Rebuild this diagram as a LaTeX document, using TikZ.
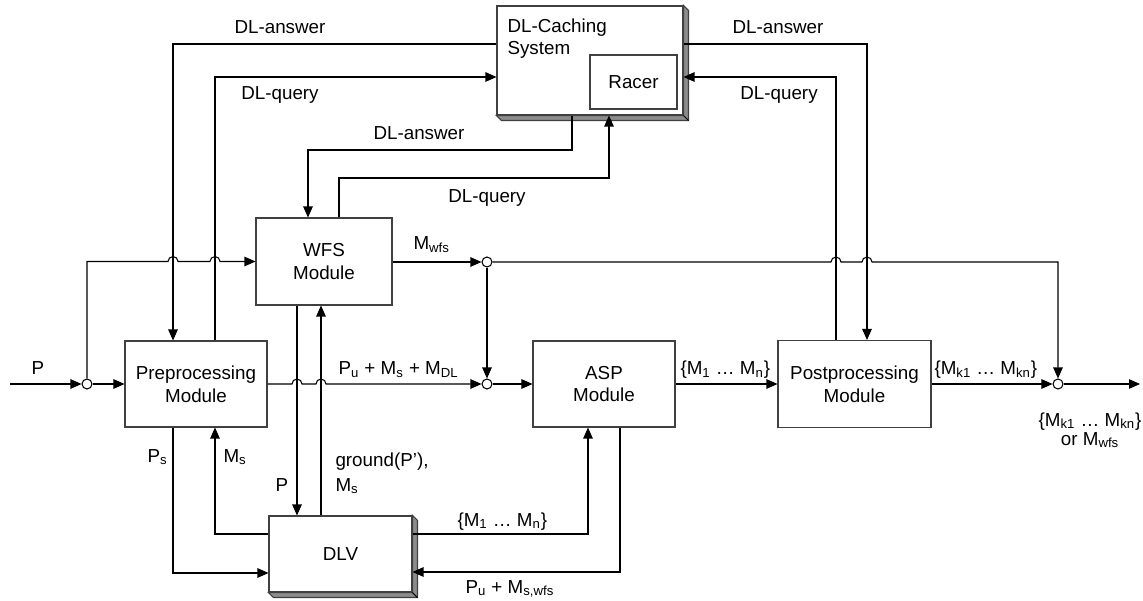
\documentclass[tikz,border=0pt]{standalone}
\usepackage{fontspec}
\setmainfont{Liberation Sans}
\usetikzlibrary{arrows.meta,calc}

\tikzset{
  block/.style={draw=black!75, fill=white, align=center, inner sep=0pt},
  junc/.style={circle, draw, fill=white, inner sep=0pt, minimum size=0.2cm},
  arr/.style={-{Triangle[length=0.22cm,width=0.19cm]}},
  lbl/.style={inner sep=0pt, anchor=base west},
  shade3d/.style={fill=black!45, draw=black!75},
}
\newcommand{\jump}{arc[start angle=180,end angle=0,radius=0.1cm]}

\begin{document}
\begin{tikzpicture}[x=0.02cm, y=-0.02cm, line width=0.6pt,
  font=\fontsize{10.7}{12.9}\selectfont]
\useasboundingbox (0,0) rectangle (1143,601);

% modules
\node[block, minimum width=3.72cm, minimum height=2.18cm] (dlc) at (590,60.5) {};
\node[block, minimum width=1.74cm, minimum height=1.08cm] (racer) at (633.5,82) {Racer};
\node[inner sep=0pt, anchor=north west, align=left] (dlcTxt) at (507,18) {DL-Caching\\System};
\node[block, minimum width=2.72cm, minimum height=1.74cm] (wfs) at (324,261.5) {WFS\\Module};
\node[block, minimum width=2.84cm, minimum height=1.72cm] (pre) at (196,384) {Preprocessing\\Module};
\node[block, minimum width=2.84cm, minimum height=1.72cm] (asp) at (604,384) {ASP\\Module};
\node[block, minimum width=3.06cm, minimum height=1.74cm] (post) at (854.5,384) {Postprocessing\\Module};
\node[block, minimum width=2.86cm, minimum height=1.52cm] (dlv) at (340.5,554) {DLV};

% 3d sides
\filldraw[shade3d] (dlc.south west) -- ++(5,5) -| ($(dlc.north east)+(5,5)$) -- (dlc.north east) -- (dlc.south east) -- cycle;
\draw (dlc.south east) -- ++(5,5);
\filldraw[shade3d] (dlv.south west) -- ++(5,5) -| ($(dlv.north east)+(5,5)$) -- (dlv.north east) -- (dlv.south east) -- cycle;
\draw (dlv.south east) -- ++(5,5);

% junctions and free ends
\node[junc] (split) at (87,384) {};
\node[junc] (jw) at (487,262) {};
\node[junc] (jm) at (487,384) {};
\node[junc] (jo) at (1058,384) {};
\coordinate (in) at (10,384);
\coordinate (out) at (1140,384);

% lanes
\coordinate (ansL) at (173,44);
\coordinate (qryL) at (215,77);
\coordinate (ansR) at (867,44);
\coordinate (qryR) at (836,77);
\coordinate (ansM) at (308,150);
\coordinate (ansM3) at (572,150);
\coordinate (qryM) at (339,178);
\coordinate (qryM3) at (609,178);
\coordinate (xd) at (297,0);
\coordinate (xu) at (321,0);
\coordinate (lowPs) at (173,573);
\coordinate (lowMs) at (215,534);
\coordinate (lowMn) at (588,534);
\coordinate (lowPu) at (620,572);

% main flow
\draw[arr] (in) -- (split);
\draw[arr] (split) -- (pre);
\draw[arr] (split) |- ([xshift=-0.1cm]ansL |- wfs.west) \jump -- ([xshift=-0.1cm]qryL |- wfs.west) \jump -- (wfs.west);
\draw[arr] (pre.east) -- ([xshift=-0.1cm]xd |- pre.east) \jump -- ([xshift=-0.1cm]xu |- pre.east) \jump -- (jm);
\draw[arr] (wfs.east |- jw) -- (jw);
\draw[arr] (jw) -- (jm);
\draw[arr] (jm) -- (asp.west);
\draw[arr] (asp.east) -- (post.west);
\draw[arr] (post.east) -- (jo);
\draw[arr] (jo) -- (out);
\draw[arr] (jw) -- ([xshift=-0.1cm]qryR |- jw) \jump -- ([xshift=-0.1cm]ansR |- jw) \jump -| (jo);

% DL calls
\draw[arr] (dlc.west |- ansL) -| (pre.north -| ansL);
\draw[arr] (pre.north -| qryL) |- (dlc.west |- qryL);
\draw[arr] (dlc.east |- ansR) -| (post.north -| ansR);
\draw[arr] (post.north -| qryR) |- (dlc.east |- qryR);
\draw[arr] (dlc.south -| ansM3) -- (ansM3) -| (wfs.north -| ansM);
\draw[arr] (wfs.north -| qryM) |- (qryM3) -- (dlc.south -| qryM3);

% DLV
\draw[arr] (wfs.south -| xd) -- (dlv.north -| xd);
\draw[arr] (dlv.north -| xu) -- (wfs.south -| xu);
\draw[arr] (pre.south -| lowPs) |- (dlv.west |- lowPs);
\draw[arr] (dlv.west |- lowMs) -| (pre.south -| lowMs);
\draw[arr] (dlv.east |- lowMn) -| (asp.south -| lowMn);
\draw[arr] (asp.south -| lowPu) |- (dlv.east |- lowPu);

% labels
\node[lbl, anchor=base] (lP) at (38,375) {P};
\node[lbl, anchor=base] (lAnsL) at (280,34) {DL-answer};
\node[lbl, anchor=base] (lQryL) at (280,100) {DL-query};
\node[lbl, anchor=base] (lAnsR) at (778,34) {DL-answer};
\node[lbl, anchor=base] (lQryR) at (779,100) {DL-query};
\node[lbl, anchor=base] (lAnsM) at (419,140) {DL-answer};
\node[lbl, anchor=base] (lQryM) at (487,203) {DL-query};
\node[lbl] (lMwfs) at (413,250) {M\textsubscript{wfs}};
\node[lbl] (lPre) at (338,375) {P\textsubscript{u} + M\textsubscript{s} + M\textsubscript{DL}};
\node[lbl] (lMn) at (680,375) {\{M\textsubscript{1} … M\textsubscript{n}\}};
\node[lbl] (lMk) at (934,375) {\{M\textsubscript{k1} … M\textsubscript{kn}\}};
\node[lbl, anchor=base] (lOut1) at (1090,426) {\{M\textsubscript{k1} … M\textsubscript{kn}\}};
\node[lbl, anchor=base] (lOut2) at (1090,445) {or M\textsubscript{wfs}};
\node[lbl] (lPs) at (147,462) {P\textsubscript{s}};
\node[lbl] (lMs) at (223,462) {M\textsubscript{s}};
\node[lbl] (lP2) at (275,491) {P};
\node[lbl] (lGround) at (335,466) {ground(P’),};
\node[lbl] (lGround2) at (335,491) {M\textsubscript{s}};
\node[lbl] (lMnLow) at (457,526) {\{M\textsubscript{1} … M\textsubscript{n}\}};
\node[lbl] (lPuLow) at (465,593) {P\textsubscript{u} + M\textsubscript{s,wfs}};
\end{tikzpicture}
\end{document}
